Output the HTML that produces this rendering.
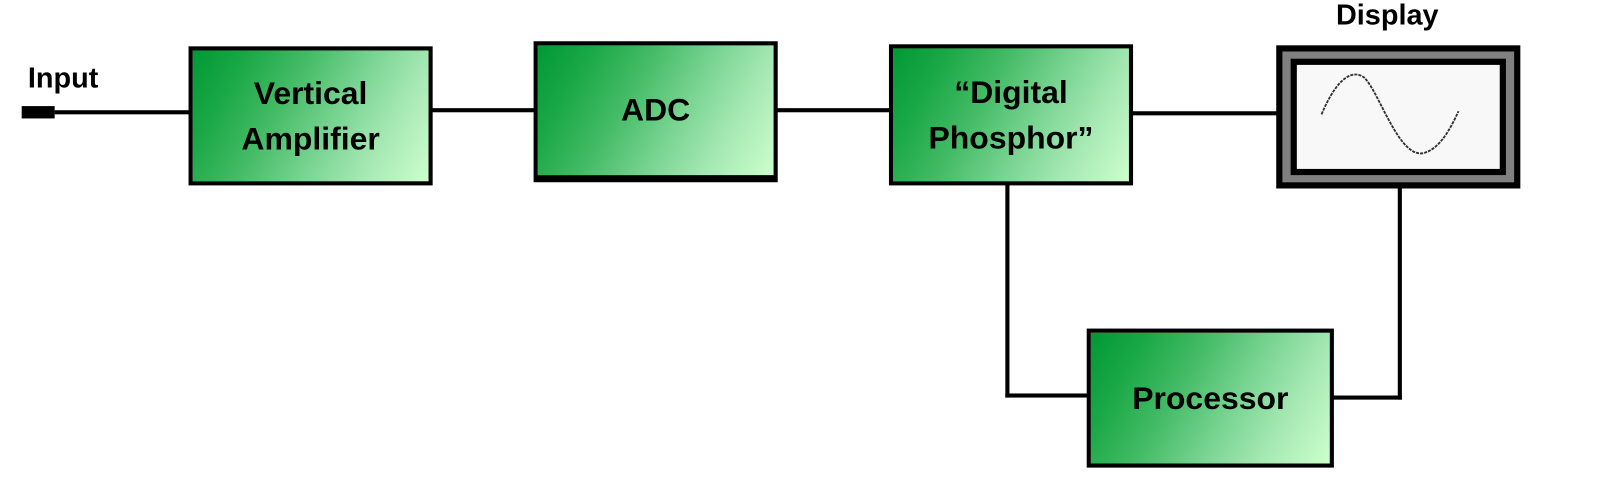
<!DOCTYPE html>
<html><head><meta charset="utf-8"><style>
body{margin:0;background:#fff;width:1613px;height:491px;position:relative;overflow:hidden;font-family:"Liberation Sans",sans-serif;}
#w{position:absolute;left:-2px;top:0;width:1560px;height:475px;transform:scale(1.03);transform-origin:0 0;}
.b{position:absolute;box-sizing:border-box;border:4px solid #000;background:linear-gradient(120deg,#009933 0%,#1aa846 18%,#44bb66 38%,#77d390 58%,#a6e8b4 78%,#ccffcc 100%);display:flex;flex-direction:column;align-items:center;justify-content:center;font-weight:bold;font-size:31px;line-height:44px;color:#000;}
.l{position:absolute;background:#000;}
.t{position:absolute;font-weight:bold;font-size:28px;color:#000;}
</style></head><body><div id="w">
<div class="t" style="left:29px;top:60px;">Input</div>
<div class="l" style="left:23px;top:103px;width:32px;height:12px;"></div>
<div class="l" style="left:55px;top:107px;width:132px;height:4px;"></div>
<div class="b" style="left:185px;top:45px;width:237px;height:135px;"><div>Vertical</div><div>Amplifier</div></div>
<div class="l" style="left:421px;top:105px;width:101px;height:4px;"></div>
<div class="b" style="left:520px;top:40px;width:237px;height:137px;border-bottom-width:7px;"><div>ADC</div></div>
<div class="l" style="left:756px;top:105px;width:110px;height:4px;"></div>
<div class="b" style="left:865px;top:43px;width:237px;height:137px;"><div>“Digital</div><div>Phosphor”</div></div>
<div class="l" style="left:1101px;top:108px;width:142px;height:4px;"></div>
<div class="t" style="left:1299px;top:-1px;">Display</div>
<div style="position:absolute;left:1241px;top:44px;width:237px;height:139px;box-sizing:border-box;background:#000;">
 <div style="position:absolute;left:6px;top:6px;right:6px;bottom:6px;background:#808080;">
  <div style="position:absolute;left:8px;top:7px;right:8px;bottom:7px;background:#000;">
   <div style="position:absolute;left:6px;top:6px;right:6px;bottom:6px;background:#f8f8f8;">
    <svg width="184" height="96" style="position:absolute;left:0;top:0">
     <path d="M24,48 C40,10 55,5 65,12 C80,25 100,95 125,85 C140,80 150,60 157,45" fill="none" stroke="#333" stroke-width="1.8" stroke-dasharray="3,1"/>
    </svg>
   </div>
  </div>
 </div>
</div>
<div class="l" style="left:978px;top:179px;width:4px;height:207px;"></div>
<div class="l" style="left:978px;top:382px;width:82px;height:4px;"></div>
<div class="b" style="left:1057px;top:319px;width:240px;height:135px;"><div>Processor</div></div>
<div class="l" style="left:1296px;top:384px;width:67px;height:4px;"></div>
<div class="l" style="left:1359px;top:182px;width:4px;height:206px;"></div>
</div></body></html>
